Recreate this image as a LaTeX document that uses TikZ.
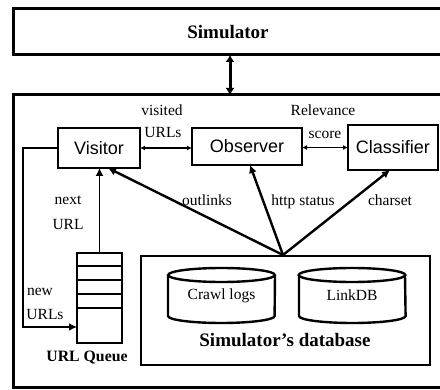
\documentclass[tikz,border=0pt]{standalone}
\usepackage{fontspec}
\setmainfont{Liberation Serif}
\newfontfamily\sansf{Liberation Sans}
\usetikzlibrary{arrows.meta}
\begin{document}
\begin{tikzpicture}[x=1pt,y=-1pt,
  bigbox/.style={draw, line width=3pt, inner sep=0pt, outer sep=0pt},
  agent/.style={draw, line width=2.4pt, inner sep=0pt, outer sep=0pt, font=\sansf\fontsize{18}{20}\selectfont},
  lbl/.style={font=\fontsize{15.5}{17}\selectfont, inner sep=0pt, outer sep=0pt},
  blbl/.style={font=\bfseries\fontsize{19}{21}\selectfont, inner sep=0pt},
  qlbl/.style={font=\bfseries\fontsize{15.8}{18}\selectfont, inner sep=0pt},
  cyl/.style={line width=2.4pt},
  tip/.style={-{Latex[length=8pt,width=8pt]}},
  dtip/.style={{Latex[length=5pt,width=5pt]}-{Latex[length=5pt,width=5pt]}}]
\useasboundingbox (0,0) rectangle (440,390);
\clip (0,0) rectangle (440,390);
\fill[white] (0,0) rectangle (440,390);
% top simulator
\node[bigbox, minimum width=430pt, minimum height=46pt, font=\bfseries\fontsize{19}{21}\selectfont] (sim) at (228,32) {Simulator};
\node[bigbox, minimum width=430pt, minimum height=293pt] (core) at (228,241.5) {};
\draw[line width=3pt, {Latex[length=7pt,width=9pt]}-{Latex[length=7pt,width=9pt]}] ([xshift=2pt]sim.south) -- ([xshift=2pt]core.north);
% agents
\node[agent, minimum width=82pt, minimum height=40pt] (visitor) at (99,148) {Visitor};
\node[agent, minimum width=110pt, minimum height=37pt] (observer) at (247,146.5) {Observer};
\node[agent, minimum width=90pt, minimum height=45pt] (classifier) at (393,147.5) {Classifier};
\draw[line width=1.2pt, dtip] (visitor.east) -- (visitor.east -| observer.west);
\draw[line width=1.2pt, dtip] (observer.east |- classifier.west) -- (classifier.west);
\node[lbl] (lv1) at (162,110) {visited};
\node[lbl] (lv2) at (163,133) {URLs};
\node[lbl] (lr1) at (323,110) {Relevance};
\node[lbl] (lr2) at (325,135) {score};
% queue
\node[draw, line width=2.4pt, inner sep=0pt, outer sep=0pt, minimum width=45pt, minimum height=90pt] (queue) at (99.5,298) {};
\foreach \yy in {266,280,294,308}
  \draw[line width=2.2pt] (queue.west |- 0,\yy) -- (queue.east |- 0,\yy);
\node[qlbl] (ql) at (87,358) {URL Queue};
\draw[line width=1.5pt, tip] (queue.north) -- (queue.north |- visitor.south);
\node[lbl] (ln1) at (68,200) {next};
\node[lbl] (ln2) at (68,225) {URL};
\coordinate (fb1) at (23,148);
\coordinate (fb2) at (23,327);
\draw[line width=2.4pt, tip] (visitor.west) -- (fb1) -- (fb2) -- (queue.west |- fb2);
\node[lbl] (lu1) at (40,292) {new};
\node[lbl] (lu2) at (45,315) {URLs};
% database
\node[draw, line width=1.5pt, inner sep=0pt, outer sep=0pt, minimum width=289pt, minimum height=109pt] (db) at (285.5,310.5) {};
\node[blbl] (dbl) at (285,340) {Simulator’s database};
\node[lbl, minimum width=107pt, minimum height=55pt] (crawl) at (221.5,295.5) {Crawl logs};
\node[lbl, minimum width=106pt, minimum height=55pt] (linkdb) at (352,295.5) {LinkDB};
\foreach \c in {crawl,linkdb}{
  \draw[cyl] ([yshift=-7pt]\c.north) ellipse [x radius=53.3pt, y radius=7pt];
  \draw[cyl] ([yshift=-7pt]\c.north west) -- ([yshift=7pt]\c.south west)
     arc[start angle=180, end angle=360, x radius=53.3pt, y radius=7pt] -- ([yshift=-7pt]\c.north east);
}
% feedback lines
\coordinate (apex) at (283,255);
\draw[line width=2.4pt, tip] (apex) -- ([xshift=9pt]visitor.south);
\draw[line width=2.4pt, tip] (apex) -- ([xshift=3pt]observer.south);
\draw[line width=2.4pt, tip] (apex) -- ([xshift=-3pt]classifier.south);
\node[lbl] (lo) at (207,200) {outlinks};
\node[lbl] (lh) at (303,202) {http status};
\node[lbl] (lc) at (390,200) {charset};
\end{tikzpicture}
\end{document}
